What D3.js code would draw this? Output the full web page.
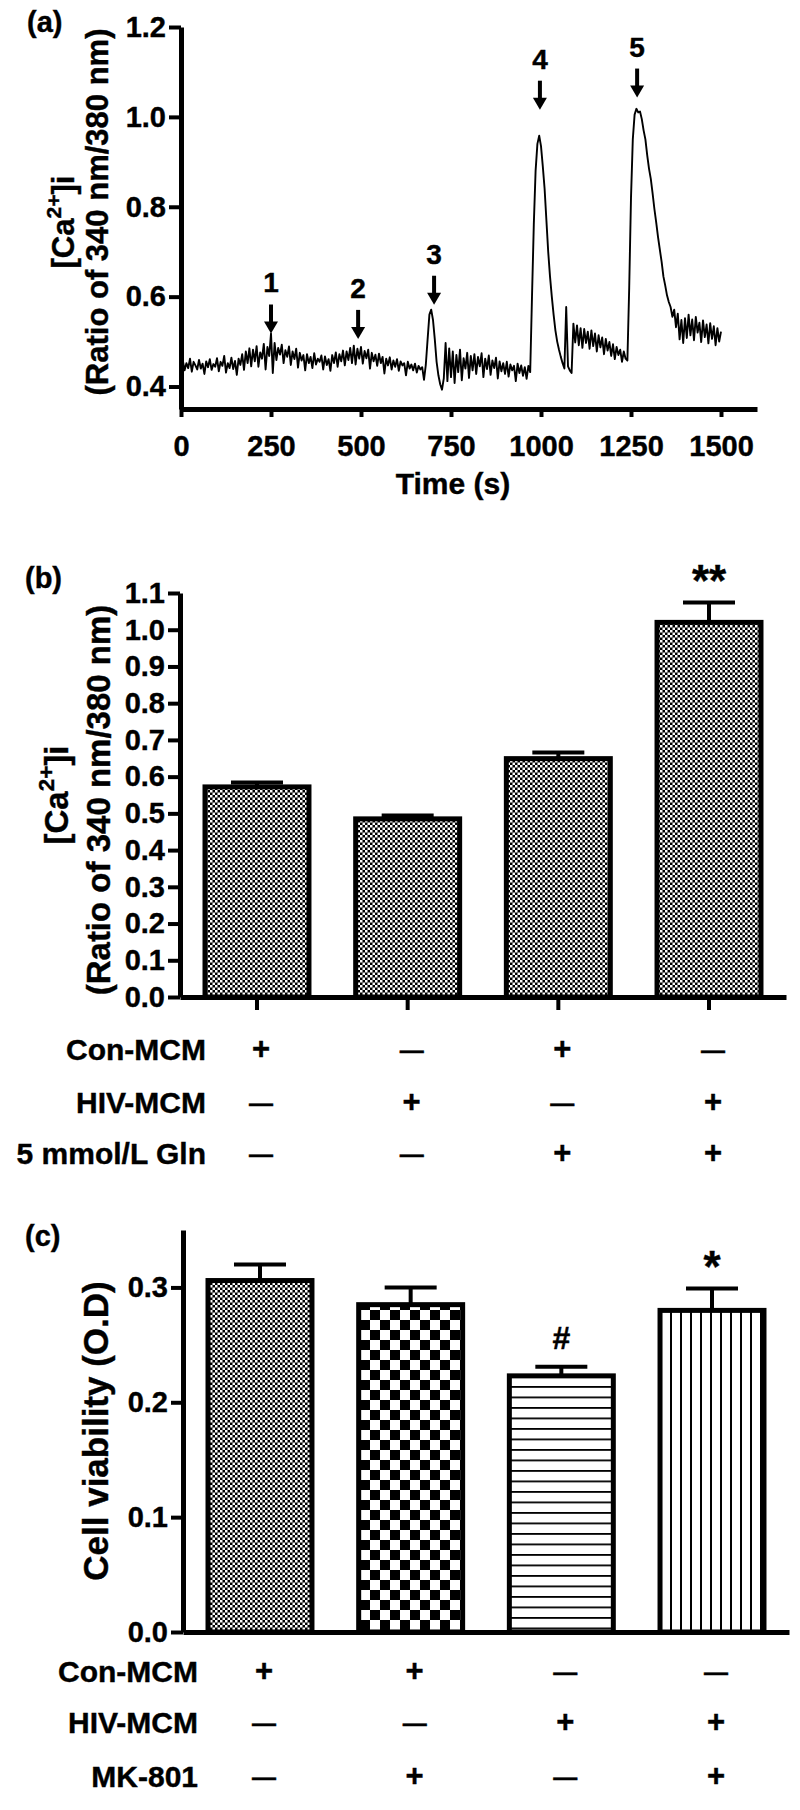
<!DOCTYPE html>
<html>
<head>
<meta charset="utf-8">
<script src="https://cdn.jsdelivr.net/npm/d3@7"></script>
<style>
body { margin: 0; background: #fff; }
text { font-family: "Liberation Sans", Arial, sans-serif; font-weight: bold; fill: #000; stroke: #000; stroke-width: 0.4px; }
</style>
</head>
<body>
<div id="fig"></div>
<script>
// ---- panel (a) data: calcium trace, one sample every 5 s
var traceStep = 5;
var traceValues = [
  0.445, 0.458, 0.436, 0.452, 0.441, 0.462, 0.433, 0.455, 0.447, 0.438,
  0.459, 0.440, 0.451, 0.428, 0.456, 0.443, 0.461, 0.437, 0.450, 0.444,
  0.463, 0.434, 0.455, 0.446, 0.468, 0.431, 0.452, 0.441, 0.464, 0.439,
  0.457, 0.426, 0.462, 0.448, 0.472, 0.437, 0.478, 0.452, 0.485, 0.445,
  0.482, 0.456, 0.490, 0.444, 0.476, 0.462, 0.495, 0.438, 0.488, 0.468,
  0.518, 0.430, 0.497, 0.459, 0.486, 0.471, 0.493, 0.452, 0.481, 0.466,
  0.489, 0.448, 0.478, 0.461, 0.484, 0.442, 0.475, 0.458, 0.470, 0.436,
  0.472, 0.452, 0.466, 0.441, 0.474, 0.449, 0.462, 0.455, 0.469, 0.438,
  0.467, 0.448, 0.461, 0.435, 0.470, 0.452, 0.476, 0.444, 0.472, 0.456,
  0.480, 0.447, 0.478, 0.459, 0.486, 0.452, 0.491, 0.449, 0.484, 0.462,
  0.488, 0.451, 0.479, 0.463, 0.482, 0.440, 0.475, 0.456, 0.471, 0.446,
  0.473, 0.452, 0.466, 0.429, 0.462, 0.447, 0.465, 0.438, 0.458, 0.444,
  0.461, 0.435, 0.456, 0.447, 0.452, 0.425, 0.455, 0.440, 0.449, 0.436,
  0.451, 0.431, 0.446, 0.438, 0.443, 0.415, 0.448, 0.505, 0.560, 0.571,
  0.548, 0.505, 0.455, 0.425, 0.405, 0.393, 0.418, 0.497, 0.412, 0.485,
  0.421, 0.478, 0.408, 0.470, 0.432, 0.482, 0.414, 0.463, 0.440, 0.475,
  0.419, 0.468, 0.436, 0.472, 0.428, 0.466, 0.445, 0.474, 0.421, 0.462,
  0.439, 0.469, 0.426, 0.458, 0.441, 0.464, 0.418, 0.456, 0.434, 0.452,
  0.428, 0.455, 0.422, 0.449, 0.436, 0.446, 0.412, 0.451, 0.430, 0.447,
  0.424, 0.443, 0.417, 0.446, 0.432, 0.600, 0.760, 0.880, 0.940, 0.958,
  0.935, 0.890, 0.840, 0.770, 0.700, 0.645, 0.600, 0.560, 0.525, 0.500,
  0.482, 0.466, 0.452, 0.440, 0.577, 0.445, 0.436, 0.430, 0.540, 0.498,
  0.536, 0.492, 0.530, 0.486, 0.528, 0.497, 0.522, 0.484, 0.525, 0.490,
  0.518, 0.478, 0.514, 0.487, 0.509, 0.472, 0.506, 0.480, 0.499, 0.468,
  0.494, 0.461, 0.488, 0.470, 0.482, 0.455, 0.478, 0.462, 0.458, 0.620,
  0.820, 0.950, 1.005, 1.018, 1.010, 1.012, 0.995, 0.970, 0.950, 0.915,
  0.885, 0.862, 0.830, 0.795, 0.765, 0.733, 0.705, 0.678, 0.645, 0.625,
  0.603, 0.588, 0.577, 0.555, 0.571, 0.532, 0.562, 0.505, 0.548, 0.497,
  0.552, 0.508, 0.560, 0.514, 0.549, 0.503, 0.555, 0.520, 0.542, 0.499,
  0.547, 0.510, 0.538, 0.496, 0.541, 0.506, 0.534, 0.492, 0.530, 0.500,
  0.522
];
var aTicksX = [0, 250, 500, 750, 1000, 1250, 1500];
var aTicksY = [0.4, 0.6, 0.8, 1.0, 1.2];
var arrowLabels = ["1", "2", "3", "4", "5"];
var arrowTimes = [250, 492, 703, 997, 1267];
var arrowTips = [0.518, 0.506, 0.582, 1.016, 1.043];

// ---- panel (b) data
var bGroups = ["Con", "HIV", "Con+Gln", "HIV+Gln"];
var bMeans = [0.572, 0.485, 0.649, 1.020];
var bSem = [0.012, 0.009, 0.017, 0.054];
var bSig = ["", "", "", "**"];
var bTicksY = [0.0, 0.1, 0.2, 0.3, 0.4, 0.5, 0.6, 0.7, 0.8, 0.9, 1.0, 1.1];
var bRows = ["Con-MCM", "HIV-MCM", "5 mmol/L Gln"];
var bSigns = [["+", "—", "+", "—"], ["—", "+", "—", "+"], ["—", "—", "+", "+"]];

// ---- panel (c) data
var cGroups = ["Con", "Con+MK", "HIV", "HIV+MK"];
var cMeans = [0.306, 0.285, 0.223, 0.280];
var cSem = [0.014, 0.015, 0.008, 0.019];
var cSig = ["", "", "#", "*"];
var cTicksY = [0.0, 0.1, 0.2, 0.3];
var cRows = ["Con-MCM", "HIV-MCM", "MK-801"];
var cSigns = [["+", "+", "—", "—"], ["—", "—", "+", "+"], ["—", "+", "—", "+"]];
var cFills = ["url(#fine)", "url(#coarse)", "url(#hlines)", "url(#vlines)"];

var svg = d3.select("#fig").append("svg")
    .attr("width", 800)
    .attr("height", 1810);

// fill patterns
var defs = svg.append("defs");
var p = defs.append("pattern").attr("id", "fine").attr("patternUnits", "userSpaceOnUse")
    .attr("width", 5).attr("height", 5);
p.append("rect").attr("width", 5).attr("height", 5).attr("fill", "#000");
p.append("rect").attr("width", 2.5).attr("height", 2.5).attr("fill", "#fff");
p.append("rect").attr("x", 2.5).attr("y", 2.5).attr("width", 2.5).attr("height", 2.5).attr("fill", "#fff");

p = defs.append("pattern").attr("id", "coarse").attr("patternUnits", "userSpaceOnUse")
    .attr("width", 20).attr("height", 20);
p.append("rect").attr("width", 20).attr("height", 20).attr("fill", "#fff");
p.append("rect").attr("width", 10).attr("height", 10).attr("fill", "#000");
p.append("rect").attr("x", 10).attr("y", 10).attr("width", 10).attr("height", 10).attr("fill", "#000");

p = defs.append("pattern").attr("id", "hlines").attr("patternUnits", "userSpaceOnUse")
    .attr("width", 10).attr("height", 10.5);
p.append("rect").attr("width", 10).attr("height", 10.5).attr("fill", "#fff");
p.append("rect").attr("width", 10).attr("height", 1.8).attr("fill", "#000");

p = defs.append("pattern").attr("id", "vlines").attr("patternUnits", "userSpaceOnUse")
    .attr("width", 10).attr("height", 10);
p.append("rect").attr("width", 10).attr("height", 10).attr("fill", "#fff");
p.append("rect").attr("width", 2).attr("height", 10).attr("fill", "#000");

function styleAxis(g, fs) {
  g.select(".domain").attr("stroke-width", 5);
  g.selectAll(".tick line").attr("stroke-width", 4);
  g.selectAll(".tick text").attr("font-size", fs);
}

// rotated y label helpers
function yLabel(x, y, size, txt) {
  return svg.append("text")
    .attr("transform", "translate(" + x + "," + y + ") rotate(-90)")
    .attr("text-anchor", "middle")
    .attr("font-size", size)
    .text(txt);
}
function caLabel(x, y, size) {
  var t = svg.append("text")
    .attr("transform", "translate(" + x + "," + y + ") rotate(-90)")
    .attr("text-anchor", "middle")
    .attr("font-size", size);
  t.append("tspan").text("[Ca");
  t.append("tspan").attr("font-size", size * 0.68).attr("dy", -size * 0.42).text("2+");
  t.append("tspan").attr("dy", size * 0.42).text("]i");
}

// ================= panel (a) =================
var xA = d3.scaleLinear().domain([0, 1600]).range([181, 757]);
var yA = d3.scaleLinear().domain([0.35, 1.2]).range([409, 27]);

svg.append("path")
    .datum(traceValues)
    .attr("fill", "none")
    .attr("stroke", "#000")
    .attr("stroke-width", 1.9)
    .attr("stroke-linejoin", "round")
    .attr("d", d3.line()
      .x(function(d, i) { return xA(i * traceStep); })
      .y(function(d) { return yA(d); }));

var gAy = svg.append("g")
    .attr("transform", "translate(181,0)")
    .call(d3.axisLeft(yA).tickValues(aTicksY).tickFormat(d3.format(".1f"))
      .tickSize(12).tickPadding(3).tickSizeOuter(0));
styleAxis(gAy, 29);

var gAx = svg.append("g")
    .attr("transform", "translate(0,409)")
    .call(d3.axisBottom(xA).tickValues(aTicksX).tickFormat(d3.format("d"))
      .tickSize(8).tickPadding(18).tickSizeOuter(0));
styleAxis(gAx, 29);

// arrows with numbers
arrowTimes.forEach(function(t, i) {
  var ax = xA(t), ay = yA(arrowTips[i]);
  svg.append("line")
      .attr("x1", ax).attr("x2", ax)
      .attr("y1", ay - 29).attr("y2", ay - 10)
      .attr("stroke", "#000").attr("stroke-width", 4);
  svg.append("path")
      .attr("d", "M" + (ax - 7) + "," + (ay - 12) + "L" + (ax + 7) + "," + (ay - 12) + "L" + ax + "," + ay + "Z")
      .attr("fill", "#000");
  svg.append("text")
      .attr("x", ax).attr("y", ay - 41)
      .attr("text-anchor", "middle")
      .attr("font-size", 28)
      .text(arrowLabels[i]);
});

svg.append("text").attr("x", 27).attr("y", 32).attr("font-size", 29).text("(a)");
svg.append("text").attr("x", 453).attr("y", 494).attr("text-anchor", "middle")
    .attr("font-size", 30).text("Time (s)");
caLabel(74, 222, 31);
yLabel(108, 212, 31, "(Ratio of 340 nm/380 nm)");

// ================= bar panels =================
function barPanel(opts) {
  var x = d3.scaleBand().domain(opts.groups).range(opts.xRange)
      .paddingInner(0.31).paddingOuter(0.166);
  var y = d3.scaleLinear().domain(opts.yDomain).range(opts.yRange);

  // error bars (upper only)
  opts.groups.forEach(function(g, i) {
    var cx = x(g) + x.bandwidth() / 2;
    var top = y(opts.means[i] + opts.sem[i]);
    svg.append("line").attr("x1", cx).attr("x2", cx)
        .attr("y1", y(opts.means[i])).attr("y2", top)
        .attr("stroke", "#000").attr("stroke-width", 4);
    svg.append("line").attr("x1", cx - 26).attr("x2", cx + 26)
        .attr("y1", top).attr("y2", top)
        .attr("stroke", "#000").attr("stroke-width", 4);
    if (opts.sig[i]) {
      var s = opts.sig[i];
      svg.append("text")
          .attr("x", cx).attr("y", s == "#" ? top - 18 : top - 7)
          .attr("text-anchor", "middle")
          .attr("font-size", s == "#" ? 32 : 44)
          .text(s);
    }
  });

  svg.selectAll(null)
      .data(opts.means)
      .enter()
      .append("rect")
        .attr("x", function(d, i) { return x(opts.groups[i]); })
        .attr("y", function(d) { return y(d); })
        .attr("width", x.bandwidth())
        .attr("height", function(d) { return y(0) - y(d); })
        .attr("fill", function(d, i) { return opts.fills[i]; })
        .attr("stroke", "#000")
        .attr("stroke-width", 5);

  var gy = svg.append("g")
      .attr("transform", "translate(" + opts.xRange[0] + ",0)")
      .call(d3.axisLeft(y).tickValues(opts.ticks).tickFormat(d3.format(".1f"))
        .tickSize(12).tickPadding(3).tickSizeOuter(0));
  styleAxis(gy, 29);

  var gx = svg.append("g")
      .attr("transform", "translate(0," + y(0) + ")")
      .call(d3.axisBottom(x).tickSize(opts.xTick).tickFormat("").tickSizeOuter(0));
  styleAxis(gx, 29);

  // condition table
  opts.rows.forEach(function(r, j) {
    var by = opts.rowY[j];
    svg.append("text").attr("x", opts.rowRight).attr("y", by)
        .attr("text-anchor", "end").attr("font-size", 30).text(r);
    opts.signs[j].forEach(function(s, i) {
      var cx = x(opts.groups[i]) + x.bandwidth() / 2 + 4;
      svg.append("text")
          .attr("x", cx)
          .attr("y", s == "+" ? by - 1 : by - 2)
          .attr("text-anchor", "middle")
          .attr("font-size", s == "+" ? 31 : 24)
          .text(s);
    });
  });
  return { x: x, y: y };
}

// ---- panel (b)
barPanel({
  groups: bGroups, means: bMeans, sem: bSem, sig: bSig,
  fills: ["url(#fine)", "url(#fine)", "url(#fine)", "url(#fine)"],
  xRange: [180, 786], yDomain: [0, 1.1], yRange: [997, 593], ticks: bTicksY,
  xTick: 13, rows: bRows, signs: bSigns, rowY: [1060, 1113, 1164], rowRight: 206
});
svg.append("text").attr("x", 25).attr("y", 588).attr("font-size", 29).text("(b)");
caLabel(68, 795, 33);
yLabel(110, 800, 33, "(Ratio of 340 nm/380 nm)");

// ---- panel (c)
barPanel({
  groups: cGroups, means: cMeans, sem: cSem, sig: cSig, fills: cFills,
  xRange: [183, 789], yDomain: [0, 0.35], yRange: [1632, 1230], ticks: cTicksY,
  xTick: 0, rows: cRows, signs: cSigns, rowY: [1682, 1733, 1787], rowRight: 198
});
svg.append("text").attr("x", 25).attr("y", 1246).attr("font-size", 29).text("(c)");
yLabel(108, 1431, 35, "Cell viability (O.D)");
</script>
</body>
</html>
